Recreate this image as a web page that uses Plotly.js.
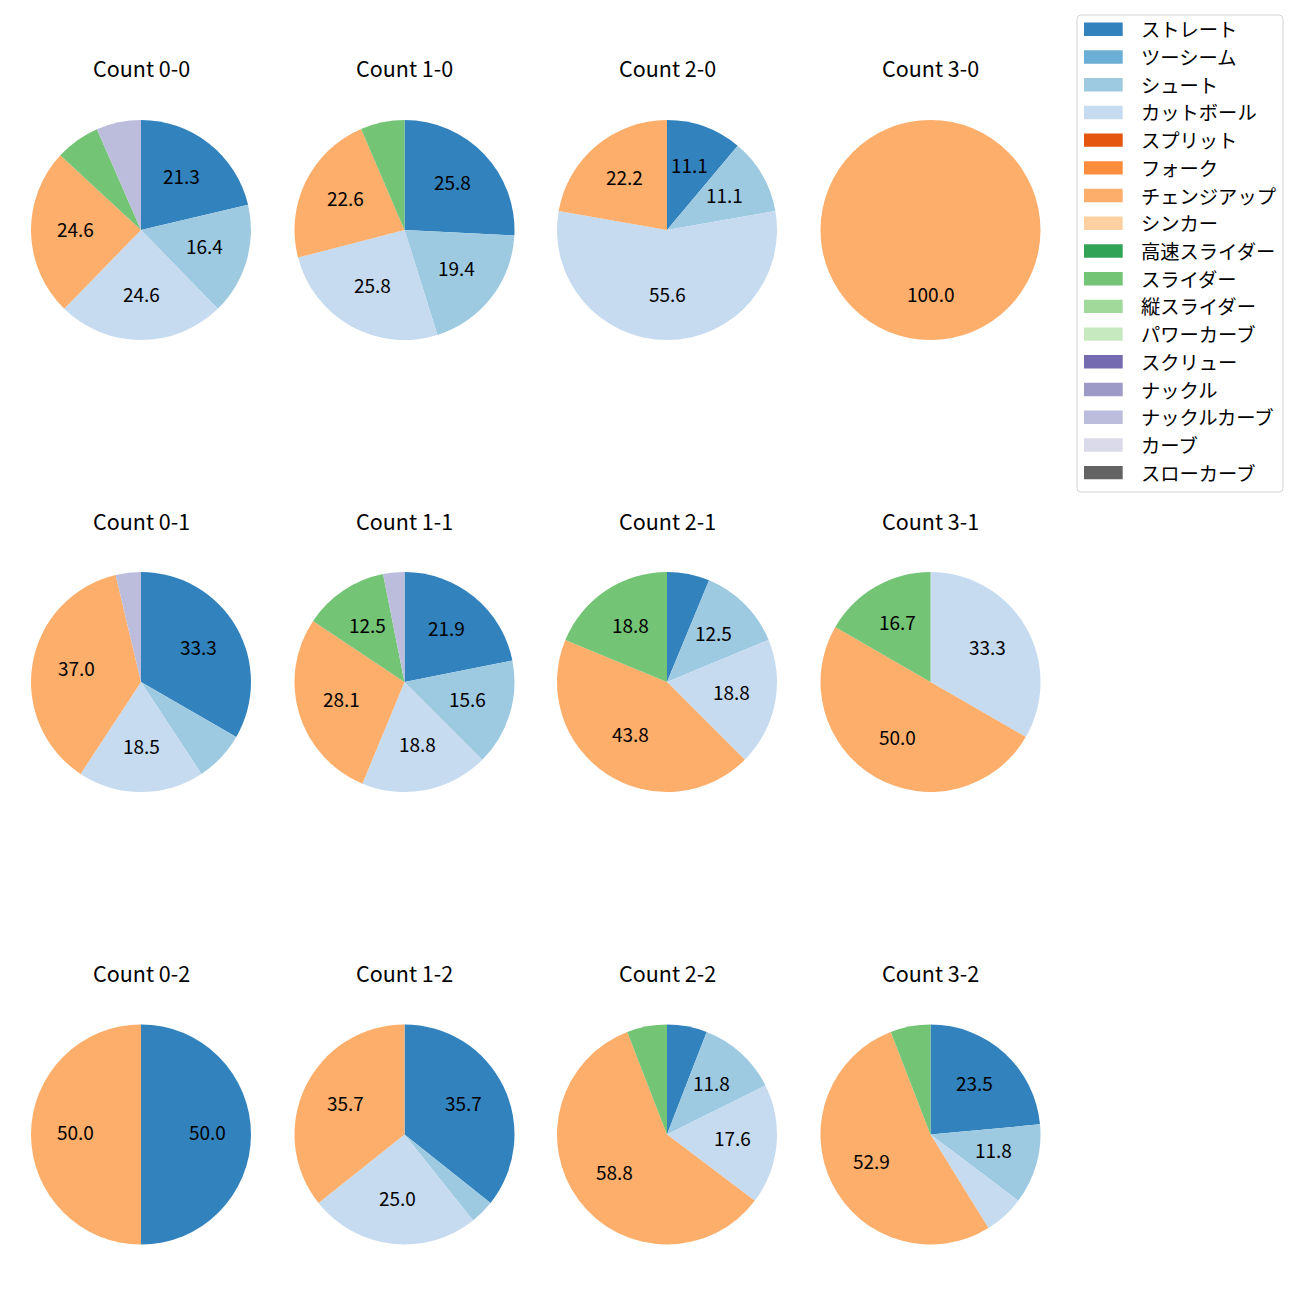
<!DOCTYPE html>
<html>
<head>
<meta charset="utf-8">
<script src="https://cdn.plot.ly/plotly-3.0.1.min.js"></script>
<style>html,body{margin:0;padding:0;background:#fff;}</style>
</head>
<body>
<div id="chart" style="width:1300px;height:1300px;"></div>
<script>
const pitchTypes = ["ストレート","ツーシーム","シュート","カットボール","スプリット","フォーク","チェンジアップ","シンカー","高速スライダー","スライダー","縦スライダー","パワーカーブ","スクリュー","ナックル","ナックルカーブ","カーブ","スローカーブ"];
const pitchColors = ["#3182bd","#6baed6","#9ecae1","#c6dbef","#e6550d","#fd8d3c","#fdae6b","#fdd0a2","#31a354","#74c476","#a1d99b","#c7e9c0","#756bb1","#9e9ac8","#bcbddc","#dadaeb","#636363"];
const countTitles = ["Count 0-0","Count 1-0","Count 2-0","Count 3-0","Count 0-1","Count 1-1","Count 2-1","Count 3-1","Count 0-2","Count 1-2","Count 2-2","Count 3-2"];
// pitch counts per count situation, in pitchTypes order
const c00 = [13,0,10,15,0,0,15,0,0,4,0,0,0,0,4,0,0];
const c10 = [8,0,6,8,0,0,7,0,0,2,0,0,0,0,0,0,0];
const c20 = [1,0,1,5,0,0,2,0,0,0,0,0,0,0,0,0,0];
const c30 = [0,0,0,0,0,0,1,0,0,0,0,0,0,0,0,0,0];
const c01 = [9,0,2,5,0,0,10,0,0,0,0,0,0,0,1,0,0];
const c11 = [7,0,5,6,0,0,9,0,0,4,0,0,0,0,1,0,0];
const c21 = [1,0,2,3,0,0,7,0,0,3,0,0,0,0,0,0,0];
const c31 = [0,0,0,2,0,0,3,0,0,1,0,0,0,0,0,0,0];
const c02 = [1,0,0,0,0,0,1,0,0,0,0,0,0,0,0,0,0];
const c12 = [10,0,1,7,0,0,10,0,0,0,0,0,0,0,0,0,0];
const c22 = [1,0,2,3,0,0,10,0,0,1,0,0,0,0,0,0,0];
const c32 = [4,0,2,1,0,0,9,0,0,1,0,0,0,0,0,0,0];
const allCounts = [c00,c10,c20,c30,c01,c11,c21,c31,c02,c12,c22,c32];

const W = 1300, H = 1300;
const colCenters = [141, 404.5, 667, 930.5];
const rowCenters = [230, 682, 1134.5];
const R = 110;
const FONT = "Noto Sans CJK JP, Noto Sans, sans-serif";
const TITLE_SIZE = 21.5, PCT_SIZE = 19, LEG_SIZE = 19.3;

const traces = [];
const annotations = [];
const shapes = [];

allCounts.forEach((vals, i) => {
  const cx = colCenters[i % 4], cy = rowCenters[Math.floor(i / 4)];
  traces.push({
    type: 'pie',
    labels: pitchTypes,
    values: vals,
    marker: {colors: pitchColors, line: {width: 0}},
    sort: false,
    direction: 'clockwise',
    rotation: 0,
    textinfo: 'none',
    hoverinfo: 'label+percent',
    showlegend: false,
    domain: {x: [(cx - R) / W, (cx + R) / W], y: [1 - (cy + R) / H, 1 - (cy - R) / H]}
  });
  annotations.push({
    text: countTitles[i], x: cx / W, y: 1 - (cy - R - 52) / H, xref: 'paper', yref: 'paper',
    xanchor: 'center', yanchor: 'middle', showarrow: false,
    font: {family: FONT, size: TITLE_SIZE, color: '#000'}
  });
  const total = vals.reduce((a, b) => a + b, 0);
  let cum = 0;
  vals.forEach((v) => {
    const pct = v / total * 100;
    const mid = (cum + v / 2) / total * 2 * Math.PI;
    cum += v;
    if (v > 0 && pct >= 10) {
      const tx = cx + 0.6 * R * Math.sin(mid);
      const ty = cy - 0.6 * R * Math.cos(mid) - 3;
      annotations.push({
        text: pct.toFixed(1), x: tx / W, y: 1 - ty / H, xref: 'paper', yref: 'paper',
        xanchor: 'center', yanchor: 'middle', showarrow: false,
        font: {family: FONT, size: PCT_SIZE, color: '#000'}
      });
    }
  });
});

// legend box
const lx0 = 1077, lx1 = 1283, ly0 = 15, ly1 = 492, rr = 4;
const px = x => x / W, py = y => 1 - y / H;
shapes.push({
  type: 'path', xref: 'paper', yref: 'paper',
  path: `M${px(lx0+rr)},${py(ly0)} L${px(lx1-rr)},${py(ly0)} Q${px(lx1)},${py(ly0)} ${px(lx1)},${py(ly0+rr)} L${px(lx1)},${py(ly1-rr)} Q${px(lx1)},${py(ly1)} ${px(lx1-rr)},${py(ly1)} L${px(lx0+rr)},${py(ly1)} Q${px(lx0)},${py(ly1)} ${px(lx0)},${py(ly1-rr)} L${px(lx0)},${py(ly0+rr)} Q${px(lx0)},${py(ly0)} ${px(lx0+rr)},${py(ly0)} Z`,
  line: {color: '#d5d5d5', width: 1}, fillcolor: 'rgba(255,255,255,0.8)'
});
pitchTypes.forEach((name, k) => {
  const yc = 29.3 + k * 27.71;
  shapes.push({
    type: 'rect', xref: 'paper', yref: 'paper',
    x0: px(1084), x1: px(1122.7), y0: py(yc - 6.7), y1: py(yc + 6.7),
    line: {width: 0}, fillcolor: pitchColors[k]
  });
  annotations.push({
    text: name, x: px(1139), y: py(yc), xref: 'paper', yref: 'paper',
    xanchor: 'left', yanchor: 'middle', showarrow: false,
    font: {family: FONT, size: LEG_SIZE, color: '#000'}
  });
});

Plotly.newPlot('chart', traces, {
  width: W, height: H,
  margin: {l: 0, r: 0, t: 0, b: 0},
  paper_bgcolor: '#fff',
  showlegend: false,
  annotations: annotations,
  shapes: shapes
}, {displayModeBar: false, staticPlot: true});
</script>
</body>
</html>
